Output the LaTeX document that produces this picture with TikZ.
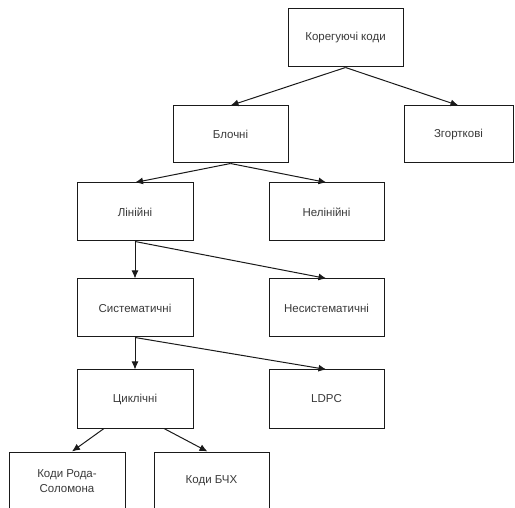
\documentclass[tikz,border=0pt]{standalone}
\usepackage{fontspec}
\setmainfont{Liberation Sans}
\usetikzlibrary{arrows.meta}
\definecolor{txt}{HTML}{3A3A3A}
\definecolor{ln}{HTML}{1A1A1A}
\tikzset{
  box/.style={draw=ln, line width=1pt, fill=white, text=txt, inner sep=2pt,
    font=\fontsize{11.5}{15}\selectfont, align=center},
  conn/.style={draw=ln, line width=1pt, -{Latex[length=8pt,width=7pt]}}
}
\begin{document}
\begin{tikzpicture}[x=1pt,y=-1pt]
\clip (0,0) rectangle (515,508);
\fill[white] (0,0) rectangle (515,508);
\node[box, minimum width=115pt, minimum height=58pt] (kod) at (345.5,38) {Корегуючі коди};
\node[box, minimum width=109pt, minimum height=57pt] (zg) at (458.5,134.5) {Згорткові};
\node[box, minimum width=115pt, minimum height=57pt] (bl) at (230.5,134.5) {Блочні};
\node[box, minimum width=116pt, minimum height=58pt] (lin) at (135,212) {Лінійні};
\node[box, minimum width=115pt, minimum height=58pt] (nel) at (326.5,212) {Нелінійні};
\node[box, minimum width=116pt, minimum height=58pt] (sys) at (135,308) {Систематичні};
\node[box, minimum width=115pt, minimum height=58pt] (nes) at (326.5,308) {Несистематичні};
\node[box, minimum width=116pt, minimum height=58pt] (cyc) at (135,399) {Циклічні};
\node[box, minimum width=115pt, minimum height=58pt] (ldpc) at (326.5,399) {LDPC};
\node[box, minimum width=116pt, minimum height=58pt] (rs) at (67,481) {Коди Рода-\\Соломона};
\node[box, minimum width=115pt, minimum height=58pt] (bch) at (211.5,481) {Коди БЧХ};

\draw[conn] (kod.south) -- (bl.north);
\draw[conn] (kod.south) -- (zg.north);
\draw[conn] (bl.south) -- (lin.north);
\draw[conn] (bl.south) -- (nel.north);
\draw[conn] (lin.south) -- (sys.north);
\draw[conn] (lin.south) -- (nes.north);
\draw[conn] (sys.south) -- (cyc.north);
\draw[conn] (sys.south) -- (ldpc.north);
\draw[conn] ([xshift=-31pt]cyc.south) -- ([xshift=5pt]rs.north);
\draw[conn] ([xshift=29pt]cyc.south) -- ([xshift=-4pt]bch.north);
\end{tikzpicture}
\end{document}
